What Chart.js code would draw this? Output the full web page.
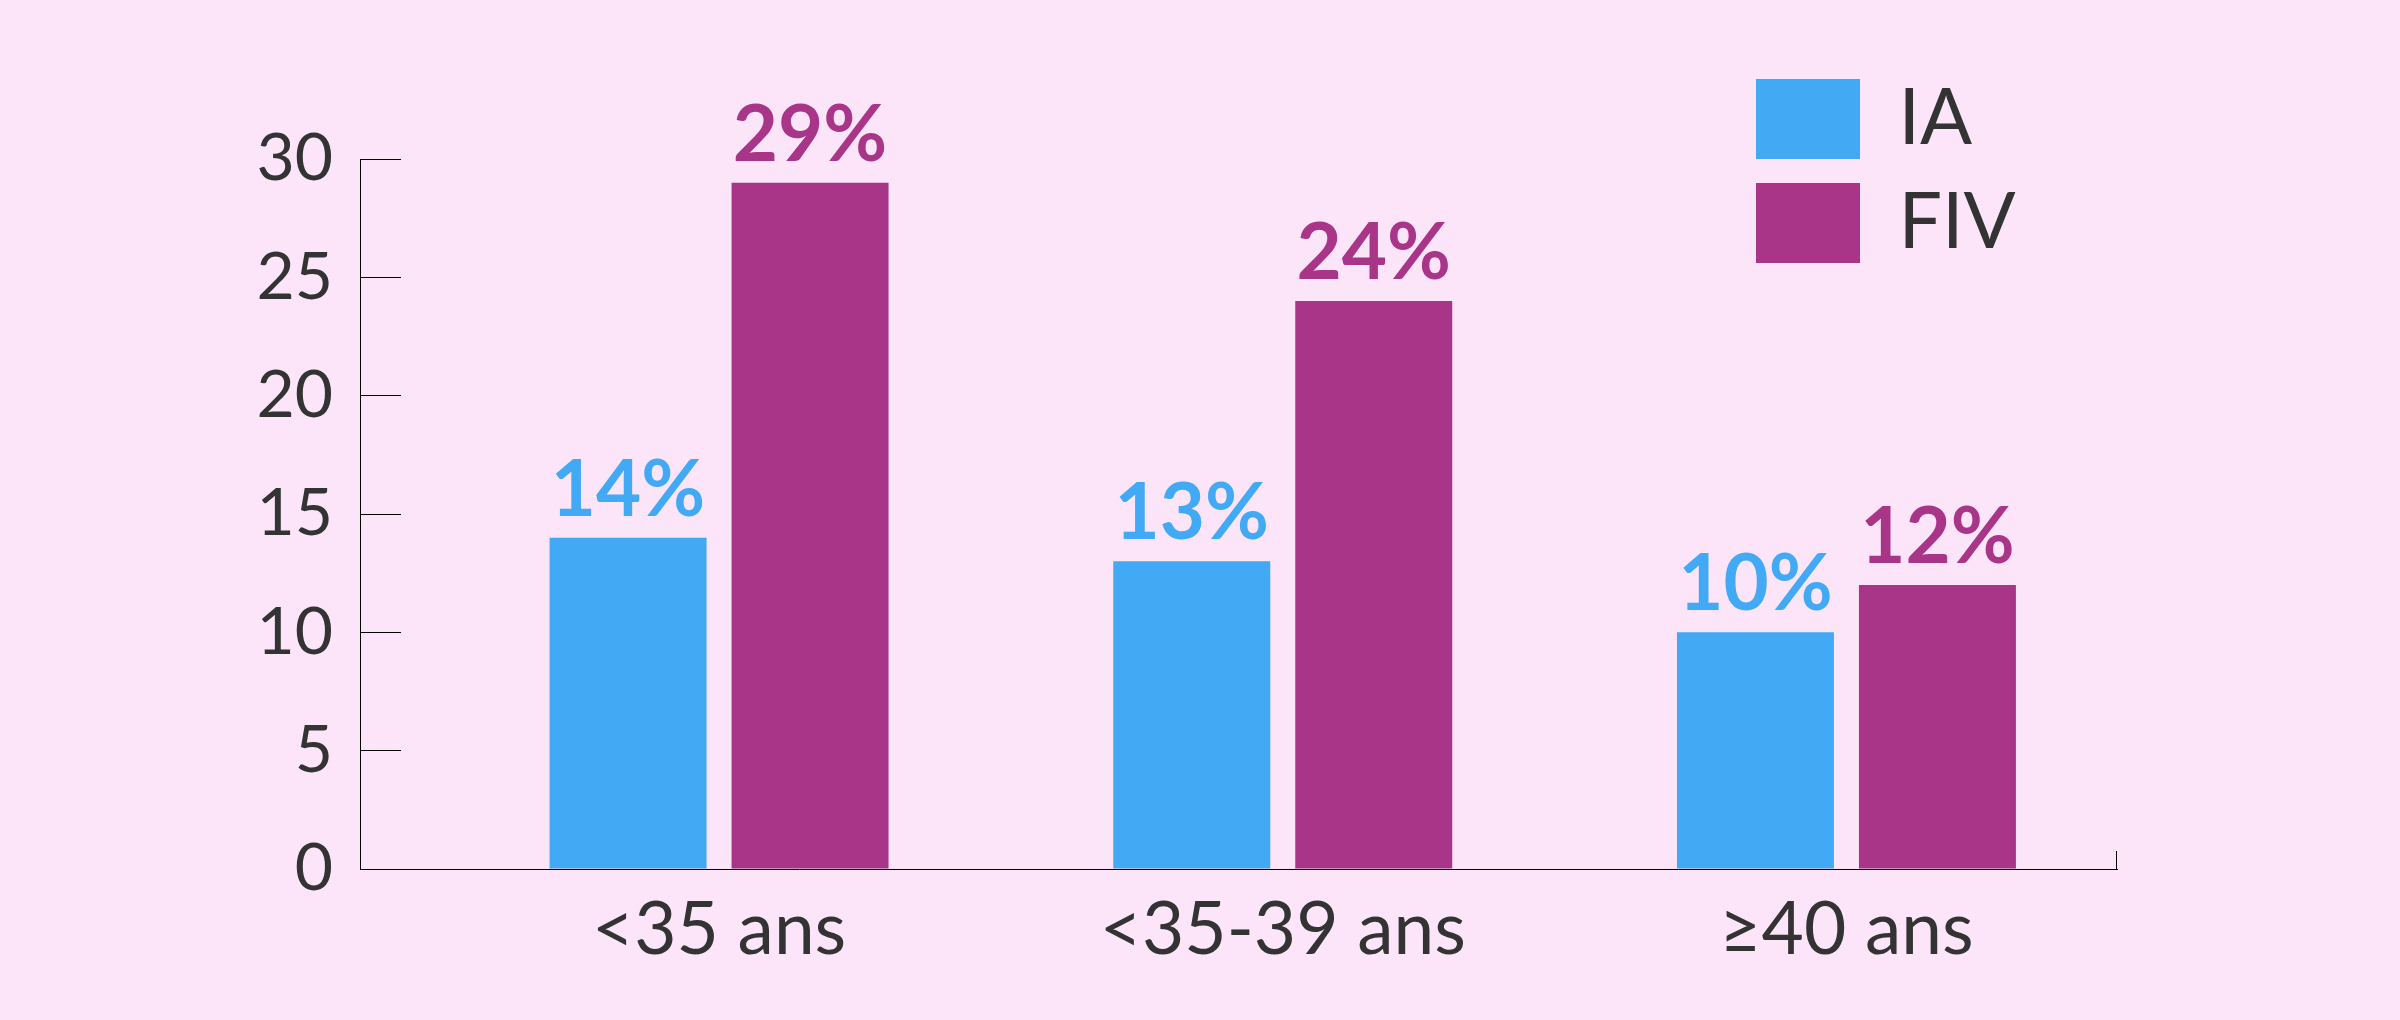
<!DOCTYPE html>
<html>
<head>
<meta charset="utf-8">
<script src="https://cdn.jsdelivr.net/npm/chart.js@4.4.1/dist/chart.umd.min.js"></script>
<style>
  html, body { margin: 0; padding: 0; background: #fde5f9; }
  #wrap { width: 2400px; height: 1020px; position: relative; }
</style>
</head>
<body>
<div id="wrap"><canvas id="c"></canvas></div>
<script>
// ---- data ----
const categories = ['<35 ans', '<35-39 ans', '\u226540 ans'];
const seriesNames = ['IA', 'FIV'];
const iaValues = [14, 13, 10];
const fivValues = [29, 24, 12];
const yTicks = [0, 5, 10, 15, 20, 25, 30];

const BLUE = '#42a9f5';
const PURPLE = '#a83588';
const TEXT = '#333333';

const valueLabels = {
  id: 'valueLabels',
  afterDatasetsDraw(chart) {
    const ctx = chart.ctx;
    ctx.save();
    ctx.font = 'bold 78px Lato';
    ctx.textAlign = 'center';
    ctx.textBaseline = 'alphabetic';
    chart.data.datasets.forEach((ds, di) => {
      const meta = chart.getDatasetMeta(di);
      ctx.fillStyle = ds.backgroundColor;
      meta.data.forEach((el, i) => {
        ctx.fillText(ds.data[i].y + '%', el.x, el.y - 22);
      });
    });
    ctx.restore();
  }
};

const axisEnd = {
  id: 'axisEnd',
  afterDraw(chart) {
    const {ctx, chartArea} = chart;
    ctx.save();
    ctx.strokeStyle = '#000';
    ctx.lineWidth = 1;
    ctx.beginPath();
    ctx.moveTo(Math.round(chartArea.right) - 0.5, chartArea.bottom);
    ctx.lineTo(Math.round(chartArea.right) - 0.5, chartArea.bottom - 18);
    ctx.stroke();
    ctx.restore();
  }
};

const legendMover = {
  id: 'legendMover',
  afterLayout(chart) {
    const l = chart.legend;
    if (!l) return;
    const left = 1732, top = 55;
    l.left = left; l.right = left + l.width;
    l.top = top; l.bottom = top + 1000;
  }
};

new Chart(document.getElementById('c'), {
  type: 'bar',
  data: {
    datasets: [
      { label: seriesNames[0], data: iaValues.map((v, i) => ({x: i, y: v})), backgroundColor: BLUE, borderWidth: 0 },
      { label: seriesNames[1], data: fivValues.map((v, i) => ({x: i, y: v})), backgroundColor: PURPLE, borderWidth: 0 }
    ]
  },
  options: {
    responsive: true,
    maintainAspectRatio: false,
    animation: false,
    categoryPercentage: 0.6457,
    barPercentage: 0.8626,
    layout: { padding: { top: 159, right: 283, bottom: 0, left: 0 } },
    plugins: {
      tooltip: { enabled: false },
      legend: {
        position: 'chartArea',
        align: 'start',
        labels: {
          boxWidth: 104,
          boxHeight: 80,
          padding: 24,
          color: TEXT,
          font: { family: 'Lato', size: 77 }
        }
      }
    },
    scales: {
      x: {
        type: 'linear',
        offset: false,
        min: -0.637,
        max: 2.48,
        afterBuildTicks: s => { s.ticks = categories.map((_, i) => ({value: i})); },
        afterFit: s => { s.height = 151; },
        ticks: {
          autoSkip: false,
          maxRotation: 0,
          padding: 18,
          color: TEXT,
          font: { family: 'Lato', size: 73 },
          callback: v => categories[v]
        },
        grid: { display: true, offset: false, drawOnChartArea: false, drawTicks: false },
        border: { display: true, color: '#000', width: 1 }
      },
      y: {
        min: 0,
        max: 30,
        afterBuildTicks: s => { s.ticks = yTicks.map(v => ({value: v})); },
        afterFit: s => { s.width = 360; },
        ticks: {
          padding: 68,
          color: TEXT,
          font: { family: 'Lato', size: 66 }
        },
        grid: { drawOnChartArea: false, drawTicks: true, tickLength: -41, tickColor: '#000', tickWidth: 1 },
        border: { display: true, color: '#000', width: 1 }
      }
    }
  },
  plugins: [valueLabels, axisEnd, legendMover]
});
</script>
</body>
</html>
